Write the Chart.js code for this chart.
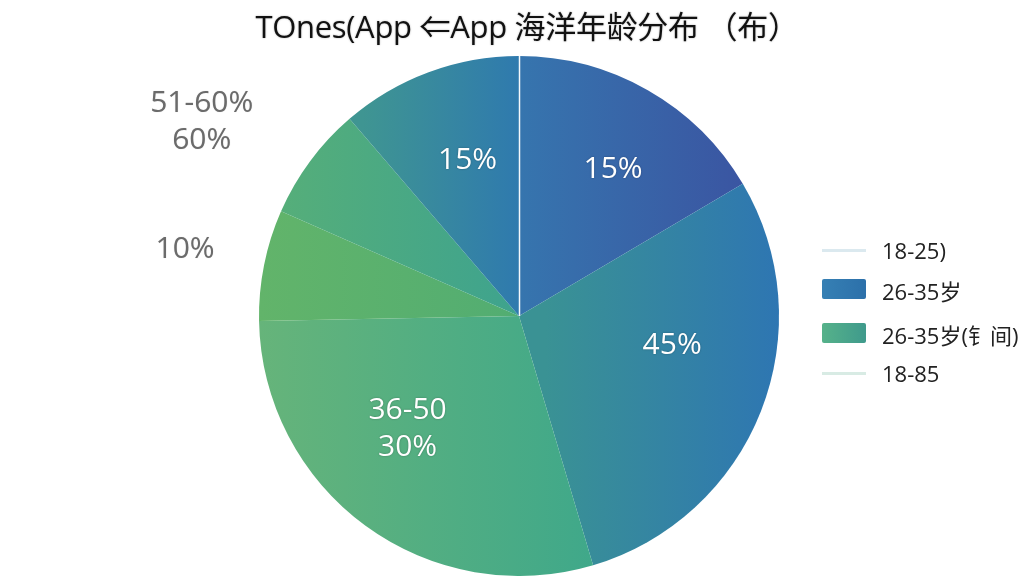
<!DOCTYPE html>
<html>
<head>
<meta charset="utf-8">
<script src="https://cdn.jsdelivr.net/npm/chart.js@4.4.1/dist/chart.umd.min.js"></script>
<style>
  html,body{margin:0;padding:0;background:#fff;}
  #wrap{position:relative;width:1024px;height:576px;overflow:hidden;}
  #c{position:absolute;left:0;top:0;}
  #title{position:absolute;left:0;width:1054px;top:2px;text-align:center;font-family:"Open Sans","Noto Sans CJK SC",sans-serif;font-size:31px;color:#111;text-shadow:0 0 2px rgba(0,0,0,0.3);white-space:nowrap;letter-spacing:-0.3px;}
  .lg{position:absolute;left:822px;font-family:"Open Sans","Noto Sans CJK SC",sans-serif;font-size:22px;color:#222;white-space:nowrap;}
  .sw{position:absolute;left:0;width:44px;}
  .lt{position:absolute;left:60px;top:-15px;}
</style>
</head>
<body>
<div id="wrap">
  <canvas id="c" width="1024" height="576"></canvas>
  <div id="title"></div>
  <div id="legend"></div>
</div>
<script>
// ---- data ----
const titleText = "TOnes(App \u21D0App 海洋年龄分布 （布）";
const categories = ["18-25", "26-35岁", "36-50", "51-60a", "51-60b", "其他"];
const values = [16.5, 28.9, 29.3, 6.9, 7.1, 11.3];
const sliceLabels = [["15%"], ["45%"], ["36-50", "30%"], ["10%"], ["51-60%", "60%"], ["15%"]];
const legendLabels = ["18-25)", "26-35岁", "26-35岁(钅间)", "18-85"];

// ---- styles ----
const gradStops = [
  [0.50, "#3675ae", 1.00, "#3b50a0"],
  [0.55, "#3a9294", 1.00, "#2e76b2"],
  [0.00, "#66b47a", 0.65, "#3fa88a"],
  [0.00, "#62b46a", 0.50, "#52ad72"],
  [0.05, "#55ae7a", 0.50, "#3ea38e"],
  [0.20, "#3f9592", 0.50, "#2f7aae"]
];
// label placement: [radius factor, angle fraction within slice, color]
const labelPlace = [
  [0.67, 0.55, "#fff"],
  [0.60, 0.40, "#fff"],
  [0.61, 0.58, "#fff"],
  [1.31, 0.50, "#6b6b6b"],
  [1.43, 0.30, "#6b6b6b"],
  [0.63, 0.55, "#fff"]
];

document.getElementById('title').textContent = titleText;

const legendStyles = [
  {top: 250, h: 3, bg: "#dbe9ef"},
  {top: 289, h: 20, bg: "linear-gradient(90deg,#3680b4,#2c70aa)"},
  {top: 333, h: 20, bg: "linear-gradient(90deg,#56b28a,#3f9a8c)"},
  {top: 373, h: 3, bg: "#d8ebe4"}
];
const lg = document.getElementById('legend');
legendLabels.forEach((t, i) => {
  const s = legendStyles[i];
  const d = document.createElement('div');
  d.className = 'lg';
  d.style.top = s.top + 'px';
  const sw = document.createElement('div');
  sw.className = 'sw';
  sw.style.top = (-s.h / 2) + 'px';
  sw.style.height = s.h + 'px';
  sw.style.background = s.bg;
  sw.style.borderRadius = s.h > 5 ? '2px' : '0';
  const tx = document.createElement('div');
  tx.className = 'lt';
  tx.textContent = t;
  d.appendChild(sw); d.appendChild(tx);
  lg.appendChild(d);
});

function sliceColor(ctx) {
  const chart = ctx.chart;
  const a = chart.chartArea;
  if (!a) return "#3a8aa0";
  const st = gradStops[ctx.dataIndex];
  const x0 = (a.left + a.right) / 2 - a.height / 2;
  const w = a.height;
  const g = chart.ctx.createLinearGradient(x0 + st[0] * w, 0, x0 + st[2] * w, 0);
  g.addColorStop(0, st[1]);
  g.addColorStop(1, st[3]);
  return g;
}

const overlay = {
  id: 'overlay',
  afterDatasetsDraw(chart) {
    const ctx = chart.ctx;
    const meta = chart.getDatasetMeta(0);
    const arc0 = meta.data[0];
    const cx = arc0.x, cy = arc0.y, R = arc0.outerRadius;
    ctx.save();
    ctx.strokeStyle = "rgba(255,255,255,0.95)";
    ctx.lineWidth = 1.5;
    ctx.beginPath();
    ctx.moveTo(cx + 0.5, cy);
    ctx.lineTo(cx + 0.5, cy - R);
    ctx.stroke();
    meta.data.forEach((arc, i) => {
      const p = labelPlace[i];
      const ang = arc.startAngle + (arc.endAngle - arc.startAngle) * p[1];
      const r = R * p[0];
      const x = cx + Math.cos(ang) * r;
      const y = cy + Math.sin(ang) * r;
      const lines = sliceLabels[i];
      ctx.font = '30px "Open Sans", "Noto Sans", sans-serif';
      ctx.textAlign = 'center';
      ctx.textBaseline = 'middle';
      const lh = 37;
      lines.forEach((t, k) => {
        const yy = y + (k - (lines.length - 1) / 2) * lh;
        if (p[2] === "#fff") {
          ctx.shadowColor = "rgba(0,0,0,0.3)";
          ctx.shadowBlur = 2;
        } else {
          ctx.shadowColor = "rgba(0,0,0,0.2)";
          ctx.shadowBlur = 1;
        }
        ctx.fillStyle = p[2];
        ctx.fillText(t, x, yy);
      });
    });
    ctx.restore();
  }
};

new Chart(document.getElementById('c'), {
  type: 'pie',
  data: {
    labels: categories,
    datasets: [{
      data: values,
      backgroundColor: sliceColor,
      borderWidth: 0
    }]
  },
  options: {
    responsive: false,
    animation: false,
    layout: { padding: { top: 56, bottom: 0, left: 258, right: 244 } },
    plugins: { legend: { display: false }, tooltip: { enabled: false } }
  },
  plugins: [overlay]
});
</script>
</body>
</html>
